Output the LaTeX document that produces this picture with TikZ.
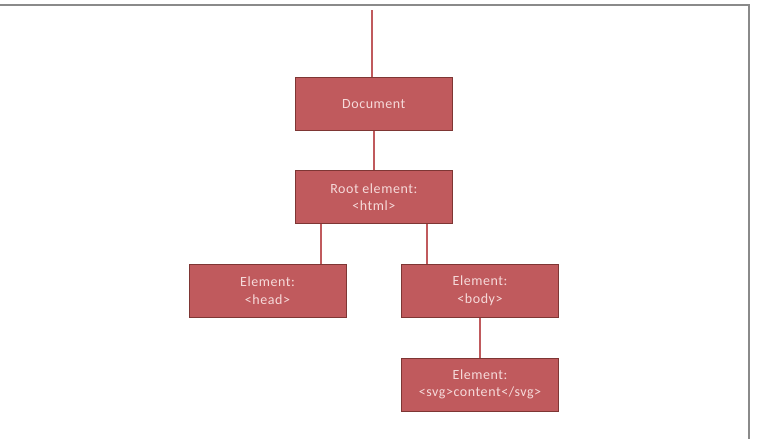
\documentclass[tikz,border=0pt]{standalone}
\usepackage{fontspec}
\setmainfont{Carlito}
\newfontfamily\boxfont[LetterSpace=4]{Carlito}
\definecolor{boxfill}{HTML}{C05A5D}
\definecolor{boxline}{HTML}{7E3634}
\definecolor{boxtext}{HTML}{F6DADA}
\definecolor{frameline}{HTML}{8A8A8A}
\tikzset{
  elbox/.style={draw=boxline, line width=1pt, fill=boxfill, text=boxtext,
    minimum width=157pt, minimum height=53pt, inner sep=0pt, align=center,
    font=\boxfont\fontsize{14}{17.5}\selectfont},
  link/.style={draw=boxfill, line width=1.8pt}
}
\begin{document}
\begin{tikzpicture}[x=1pt,y=-1pt]
\useasboundingbox (0,0) rectangle (763,439);
\draw[frameline, line width=1.5pt] (0,5) -- (749,5) -- (749,439);
\node[elbox] (doc) at (373.8,103.8) {Document};
\node[elbox] (root) at (373.8,197.2) {Root element:\\<html>};
\node[elbox] (head) at (267.5,290.8) {Element:\\<head>};
\node[elbox] (body) at (480,290.8) {Element:\\<body>};
\node[elbox] (svg) at (480,384.5) {Element:\\<svg>content</svg>};
\coordinate (top) at (372,10);
\draw[link] (top) -- (top |- doc.north);
\draw[link] (doc.south) -- (root.north);
\draw[link] (root.south -| 321,0) -- (321,0 |- head.north);
\draw[link] (root.south -| 426.7,0) -- (426.7,0 |- body.north);
\draw[link] (body.south) -- (svg.north);
\end{tikzpicture}
\end{document}
